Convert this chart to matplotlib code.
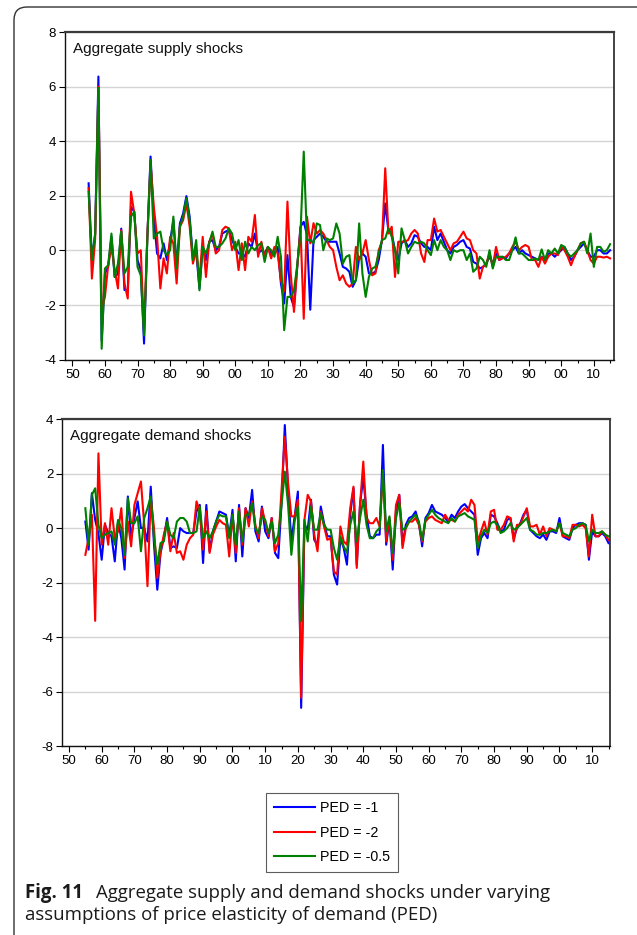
import matplotlib
matplotlib.use("Agg")
import matplotlib.pyplot as plt
import matplotlib.patches as mpatches
import matplotlib.transforms as mtransforms
from matplotlib.ticker import MultipleLocator, FuncFormatter
import numpy as np

plt.rcParams['font.family'] = ['Liberation Sans', 'DejaVu Sans']
plt.rcParams['axes.unicode_minus'] = False

years = list(range(1855, 2016))
series_labels = ["PED = -1", "PED = -2", "PED = -0.5"]
series_colors = ["#0000ff", "#ff0000", "#008000"]

# ---------------- Aggregate supply shocks ----------------
supply_ped1 = [
    2.46, -0.35, 0.60, 6.37, -3.30,                                  # 1855-59
    -0.85, -0.60, 0.50, -0.97, -0.85, 0.80, -1.45, -1.45, 1.60, 1.42,  # 1860s
    -0.35, -0.72, -3.41, 0.44, 3.44, 1.20, -0.11, -0.29, 0.26, -0.35,  # 1870s
    0.32, 1.11, -0.60, 0.99, 1.36, 1.99, 1.24, -0.29, -0.05, -1.39,    # 1880s
    0.13, -0.35, 0.32, 0.38, 0.01, 0.13, 0.62, 0.69, 0.75, 0.38,       # 1890s
    0.13, -0.11, -0.11, -0.23, 0.26, 0.13, 0.62, -0.11, 0.01, -0.11,   # 1900s
    0.13, -0.11, -0.11, 0.13, -1.21, -1.94, -0.17, -1.70, -2.07, -0.60,  # 1910s
    0.87, 1.05, 0.56, -2.17, 0.38, 0.50, 0.62, 0.50, 0.32, 0.32,       # 1920s
    0.32, 0.32, -0.11, -0.60, -0.66, -0.78, -1.33, -1.09, -0.29, -0.11,  # 1930s
    -0.23, -0.84, -0.84, -0.78, -0.35, 0.38, 1.72, 0.69, 0.62, 0.01,   # 1940s
    -0.35, 0.26, 0.38, 0.13, 0.26, 0.56, 0.50, 0.26, 0.13, 0.13,       # 1950s
    0.01, 0.87, 0.38, 0.62, 0.32, 0.01, -0.11, 0.13, 0.20, 0.32,       # 1960s
    0.38, 0.13, 0.07, -0.42, -0.48, -0.66, -0.60, -0.48, -0.23, -0.48,  # 1970s
    -0.11, -0.35, -0.23, -0.29, -0.11, 0.01, 0.13, -0.11, 0.01, -0.11,  # 1980s
    -0.17, -0.23, -0.29, -0.35, -0.23, -0.35, -0.11, -0.11, -0.23, -0.11,  # 1990s
    0.01, 0.13, -0.11, -0.35, -0.23, 0.01, 0.13, 0.26, 0.01, -0.23,    # 2000s
    -0.23, 0.01, 0.01, -0.11, -0.11, 0.01,                             # 2010-15
]
supply_ped2 = [
    2.28, -1.03, 0.40, 6.00, -2.20,
    -1.70, -0.54, 0.13, -0.72, -1.39, 0.75, -1.21, -1.76, 2.15, 1.36,
    -0.11, 0.01, -2.92, 0.50, 3.19, 1.60, 0.50, -1.39, -0.29, -0.84,
    0.50, 0.26, -1.21, 0.87, 1.11, 1.72, 0.87, -0.48, 0.01, -1.09,
    0.50, -0.97, 0.32, 0.62, -0.11, 0.01, 0.75, 0.87, 0.81, 0.01,
    0.32, -0.72, 0.26, -0.72, 0.50, 0.32, 1.30, -0.23, 0.32, -0.23,
    0.13, -0.29, 0.13, -0.11, -1.09, -1.50, 1.79, -0.84, -2.25, -0.60,
    0.81, -2.50, 1.24, 0.26, 1.00, 0.62, 0.75, 0.62, 0.38, 0.13,
    0.01, -0.60, -1.09, -0.91, -1.21, -1.33, -1.21, 0.13, -0.35, -0.11,
    0.38, -0.35, -0.91, -0.84, 0.01, 0.32, 3.01, 0.62, 0.87, -0.97,
    0.32, 0.32, 0.32, 0.38, 0.62, 0.75, 0.62, -0.11, -0.42, 0.38,
    0.38, 1.17, 0.69, 0.75, 0.50, 0.26, 0.01, 0.26, 0.32, 0.50,
    0.69, 0.44, 0.38, 0.01, -0.11, -1.03, -0.60, -0.48, -0.11, -0.60,
    0.13, -0.35, -0.29, -0.23, -0.11, 0.13, 0.32, 0.01, 0.13, 0.20,
    0.13, -0.35, -0.35, -0.60, -0.23, -0.48, -0.23, -0.11, -0.11, -0.17,
    0.13, 0.01, -0.23, -0.54, -0.23, 0.01, 0.26, 0.32, 0.01, -0.35,
    -0.48, -0.23, -0.23, -0.26, -0.23, -0.29,
]
supply_ped05 = [
    2.15, -0.35, 0.60, 5.95, -3.60,
    -0.66, -0.54, 0.62, -0.97, -0.48, 0.69, -0.84, -0.60, 1.24, 1.42,
    -0.60, -0.91, -3.11, 0.38, 3.31, 0.44, 0.62, 0.69, 0.01, -0.17,
    0.01, 1.24, -0.66, 0.87, 1.24, 1.91, 1.11, -0.35, 0.38, -1.46,
    0.13, -0.11, 0.26, 0.69, 0.13, 0.13, 0.26, 0.44, 0.81, 0.62,
    0.01, 0.38, -0.35, 0.32, -0.11, 0.13, 0.01, 0.20, 0.26, -0.42,
    0.13, 0.01, -0.23, 0.50, -0.23, -2.92, -1.70, -1.70, -1.46, -0.54,
    0.62, 3.62, 0.38, 0.38, 0.26, 0.99, 0.93, 0.01, 0.44, 0.38,
    0.44, 0.99, 0.62, -0.48, -0.23, -0.17, -1.21, -1.09, 0.99, -0.84,
    -1.70, -0.97, -0.66, -0.60, -0.11, 0.38, 0.44, 0.81, 0.50, 0.01,
    -0.84, 0.81, 0.38, -0.11, 0.13, 0.32, 0.26, 0.32, 0.26, 0.01,
    -0.17, 0.38, 0.01, 0.38, 0.13, 0.01, -0.35, 0.01, -0.05, 0.01,
    0.01, -0.35, -0.11, -0.78, -0.66, -0.23, -0.35, -0.60, 0.01, -0.66,
    -0.23, -0.23, -0.23, -0.35, -0.35, 0.01, 0.48, -0.11, -0.11, -0.23,
    -0.35, -0.35, -0.29, -0.35, 0.04, -0.35, 0.01, -0.11, 0.07, -0.11,
    0.20, 0.13, -0.11, -0.23, -0.11, 0.01, 0.26, 0.32, -0.11, 0.62,
    -0.60, 0.13, 0.13, -0.05, 0.01, 0.23,
]

# ---------------- Aggregate demand shocks ----------------
demand_ped1 = [
    0.24, -0.79, 1.28, 0.30, -0.20,
    -1.16, 0.12, -0.18, -0.30, -1.22, 0.24, -0.37, -1.52, 1.16, -0.37,
    0.37, 0.98, 0.00, 0.00, -0.49, 1.52, -0.61, -2.26, -0.91, -0.37,
    0.37, -0.73, -0.67, -0.73, 0.00, -0.12, -0.18, -0.18, -0.18, 0.61,
    0.85, -1.28, 0.85, -0.85, -0.12, 0.24, 0.61, 0.55, 0.49, -0.30,
    0.67, -1.22, 0.85, -1.04, 0.73, 0.37, 1.40, -0.12, -0.49, 0.79,
    -0.12, -0.37, 0.37, -0.91, -1.10, 0.91, 3.78, 1.40, -0.49, 0.43,
    1.34, -6.59, 0.12, -0.06, 1.04, -0.43, -0.61, 0.79, 0.18, -0.30,
    -0.30, -1.71, -2.07, -0.37, -0.73, -1.34, 0.49, 1.46, -1.34, 0.85,
    1.89, 0.49, -0.30, -0.37, -0.24, -0.24, 3.05, -0.61, 0.30, -1.52,
    0.61, 1.22, -0.61, 0.12, 0.37, 0.43, 0.61, 0.18, -0.67, 0.37,
    0.55, 0.85, 0.61, 0.55, 0.49, 0.37, 0.24, 0.49, 0.37, 0.61,
    0.79, 0.88, 0.73, 0.61, 0.49, -0.98, -0.37, -0.18, -0.37, 0.49,
    0.43, 0.18, -0.12, -0.06, 0.30, 0.37, -0.37, 0.00, 0.18, 0.49,
    0.67, -0.06, -0.18, -0.30, -0.37, -0.24, -0.43, -0.12, -0.12, -0.18,
    0.37, -0.30, -0.37, -0.43, 0.00, 0.12, 0.18, 0.18, 0.12, -1.16,
    -0.12, -0.30, -0.30, -0.18, -0.30, -0.55,
]
demand_ped2 = [
    -0.98, -0.37, 0.49, -3.40, 2.74,
    -0.61, 0.18, -0.61, 0.73, -0.37, -0.12, 0.73, -1.10, 0.24, -0.67,
    0.85, 1.28, 1.71, 0.12, -2.13, 1.10, 0.00, -1.83, -0.85, -0.24,
    0.24, -0.85, -0.18, -0.91, -0.85, -1.16, -0.61, -0.37, -0.24, 0.98,
    0.61, -0.79, 0.61, -0.91, -0.24, 0.06, 0.30, 0.18, 0.12, -1.04,
    0.49, -0.91, 0.73, -0.61, 0.73, 0.06, 0.98, 0.12, -0.37, 0.73,
    0.24, -0.30, 0.37, -0.85, -0.55, 1.40, 3.35, 1.65, 0.43, 0.43,
    1.04, -6.22, 0.30, 1.22, 0.98, -0.24, -0.85, 0.61, 0.06, -0.43,
    -0.37, -1.59, -1.71, 0.06, -0.49, -0.61, 0.73, 1.52, -1.46, 0.85,
    2.44, 0.37, 0.18, 0.18, 0.37, 0.06, 1.95, -0.49, 0.37, -1.16,
    0.85, 1.22, -0.73, 0.00, 0.24, 0.24, 0.37, 0.12, -0.49, 0.24,
    0.37, 0.43, 0.30, 0.24, 0.18, 0.49, 0.30, 0.30, 0.24, 0.49,
    0.61, 0.73, 0.61, 1.04, 0.85, -0.49, -0.12, 0.24, -0.24, 0.61,
    0.67, -0.06, -0.06, 0.12, 0.43, 0.37, -0.49, 0.12, 0.12, 0.43,
    0.73, 0.06, 0.06, 0.12, -0.24, 0.06, -0.30, 0.00, -0.06, -0.12,
    0.18, -0.30, -0.30, -0.37, 0.12, 0.12, 0.06, 0.12, 0.00, -1.04,
    0.49, -0.30, -0.30, -0.12, -0.24, -0.43,
]
demand_ped05 = [
    0.73, -0.61, 1.22, 1.46, 0.12,
    -0.37, -0.24, -0.18, -0.12, -0.61, 0.30, 0.00, -0.98, 1.10, 0.18,
    0.18, 0.43, -0.85, 0.37, 0.73, 1.16, -0.37, -1.34, -0.55, -0.49,
    0.24, -0.24, -0.37, 0.24, 0.37, 0.37, 0.24, -0.18, -0.18, -0.12,
    0.79, -0.37, -0.12, -0.37, -0.12, 0.24, 0.49, 0.43, 0.43, -0.37,
    0.49, -0.61, 0.61, -0.49, 0.49, 0.49, 0.91, 0.00, -0.18, 0.43,
    0.30, -0.18, 0.24, -0.55, -0.24, 0.85, 2.07, 0.85, -0.98, 0.24,
    0.79, -3.41, 0.30, -0.49, 0.79, -0.06, -0.06, 0.55, 0.12, -0.06,
    -0.06, -0.73, -1.16, -0.30, -0.67, -0.91, 0.12, 0.61, -0.49, 0.37,
    1.04, 0.12, -0.37, -0.37, -0.12, 0.00, 2.13, -0.12, 0.43, -0.91,
    0.37, 0.91, -0.06, 0.00, 0.24, 0.37, 0.49, 0.24, -0.43, 0.30,
    0.49, 0.67, 0.49, 0.37, 0.30, 0.24, 0.18, 0.37, 0.24, 0.43,
    0.49, 0.55, 0.43, 0.37, 0.30, -0.73, -0.30, -0.06, -0.18, 0.18,
    0.24, 0.12, -0.18, -0.12, 0.00, 0.18, -0.06, 0.00, 0.12, 0.24,
    0.37, -0.06, -0.12, -0.24, -0.24, -0.18, -0.18, -0.12, -0.06, -0.12,
    0.18, -0.18, -0.24, -0.30, -0.06, 0.00, 0.12, 0.18, 0.12, -0.49,
    -0.06, -0.18, -0.18, -0.12, -0.24, -0.30,
]

supply_ticks = [8, 6, 4, 2, 0, -2, -4]
demand_ticks = [4, 2, 0, -2, -4, -6, -8]

for s in (supply_ped1, supply_ped2, supply_ped05, demand_ped1, demand_ped2, demand_ped05):
    assert len(s) == len(years), len(s)

W, H = 637, 935
fig = plt.figure(figsize=(W / 100, H / 100), dpi=100)


def px_axes(l, t, r, b):
    return fig.add_axes([l / W, 1 - b / H, (r - l) / W, (b - t) / H])


def style(ax, ticks, xlim, title):
    ax.set_xlim(*xlim)
    ax.set_ylim(min(ticks), max(ticks))
    ax.set_yticks(ticks)
    ax.yaxis.set_major_formatter(FuncFormatter(lambda v, p: "%d" % v))
    ax.xaxis.set_major_locator(MultipleLocator(10))
    ax.xaxis.set_minor_locator(MultipleLocator(5))
    ax.xaxis.set_major_formatter(FuncFormatter(lambda v, p: "%02d" % (int(round(v)) % 100)))
    ax.grid(axis='y', color='#d4d4d4', linewidth=1.0)
    ax.set_axisbelow(True)
    ax.tick_params(axis='x', which='major', direction='out', length=4.5, width=0.8,
                   labelsize=9.5, pad=2, top=False)
    ax.tick_params(axis='x', which='minor', direction='out', length=2.5, width=0.8, top=False)
    ax.tick_params(axis='y', which='major', direction='out', length=4.5, width=0.8,
                   labelsize=9.5, pad=2, right=False)
    for side in ('left', 'bottom'):
        ax.spines[side].set_linewidth(1.0)
        ax.spines[side].set_color('#111111')
    ax.spines['top'].set_linewidth(1.6)
    ax.spines['top'].set_color('#3a3a3a')
    ax.spines['right'].set_linewidth(1.2)
    ax.spines['right'].set_color('#222222')
    ax.text(0.014, 0.948, title, transform=ax.transAxes, fontsize=11,
            ha='left', va='center', color='#111111')


ax1 = px_axes(65, 32, 613.7, 359.7)
ax2 = px_axes(62.3, 419, 610, 746.3)

lines = []
for vals, lab, col in zip((supply_ped1, supply_ped2, supply_ped05), series_labels, series_colors):
    ln, = ax1.plot(years, vals, color=col, linewidth=1.5, label=lab)
    lines.append(ln)
for vals, lab, col in zip((demand_ped1, demand_ped2, demand_ped05), series_labels, series_colors):
    ax2.plot(years, vals, color=col, linewidth=1.5, label=lab)

style(ax1, supply_ticks, (1847.75, 2016.1), "Aggregate supply shocks")
style(ax2, demand_ticks, (1847.95, 2015.45), "Aggregate demand shocks")

leg = fig.legend(handles=lines, labels=series_labels, loc='upper left',
                 bbox_to_anchor=(266 / W, 1 - 793 / H), fontsize=10.3,
                 frameon=True, fancybox=False, edgecolor='#333333',
                 handlelength=2.85, handletextpad=0.4, labelspacing=0.75,
                 borderpad=0.55, borderaxespad=0)
leg.get_frame().set_linewidth(0.8)

# page frame (left and top edges with rounded corner)
frame = mpatches.FancyBboxPatch((14, -60), 800, H - 7 + 60,
                                boxstyle="round,pad=0,rounding_size=13",
                                transform=mtransforms.IdentityTransform(),
                                facecolor='none', edgecolor='#333333', linewidth=1.0)
fig.add_artist(frame)

cap_font = ['Open Sans', 'DejaVu Sans']
cap_size = 13.4
t0 = fig.text(25 / W, 1 - 893 / H, "Fig. 11", fontsize=cap_size, fontweight='bold',
              family=cap_font, ha='left', va='center', color='#1a1a1a')
fig.canvas.draw()
bb = t0.get_window_extent()
fig.text((bb.x1 + 13) / W, 1 - 893 / H, "Aggregate supply and demand shocks under varying",
         fontsize=cap_size, family=cap_font, ha='left', va='center', color='#1a1a1a')
fig.text(25 / W, 1 - 915 / H, "assumptions of price elasticity of demand (PED)",
         fontsize=cap_size, family=cap_font, ha='left', va='center', color='#1a1a1a')

fig.savefig("out.png", dpi=100)
